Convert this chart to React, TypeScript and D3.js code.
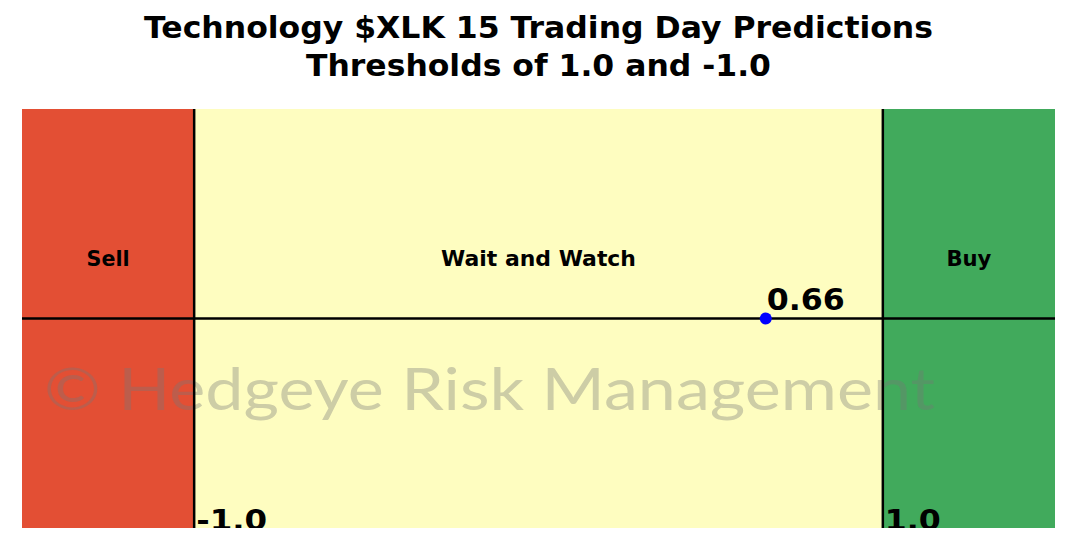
import * as d3 from "d3";

const titleLines = ["Technology $XLK 15 Trading Day Predictions", "Thresholds of 1.0 and -1.0"];
const zoneNames = ["Sell", "Wait and Watch", "Buy"];
const zoneStarts = [-1.5, -1.0, 1.0];
const zoneEnds = [-1.0, 1.0, 1.5];
const zoneColors = ["#e34f34", "#fefdc0", "#41aa5c"];
const thresholds = [-1.0, 1.0];
const prediction = 0.66;
const watermark = "\u00a9 Hedgeye Risk Management";

const W = 1075;
const H = 539;
const left = 22;
const right = 1055;
const top = 109;
const bottom = 528;
const font = "DejaVu Sans, sans-serif";

export default function App() {
  const x = d3.scaleLinear().domain([-1.5, 1.5]).range([left, right]);
  const y = d3.scaleLinear().domain([-1, 1]).range([bottom, top]);

  const zoneLabelWidths = [43, 195, 45];

  return (
    <svg width={W} height={H} style={{ position: "absolute", left: 0, top: 0 }}>
      <defs>
        <clipPath id="plot">
          <rect x={left} y={top} width={right - left} height={bottom - top} />
        </clipPath>
      </defs>
      <rect width={W} height={H} fill="#fff" />
      {titleLines.map((t, i) => (
        <text
          key={t}
          x={(left + right) / 2}
          y={38 + i * 38}
          textAnchor="middle"
          fontFamily={font}
          fontWeight="bold"
          fontSize={30}
          textLength={i === 0 ? 789 : 465}
          lengthAdjust="spacingAndGlyphs"
        >
          {t}
        </text>
      ))}
      <g clipPath="url(#plot)">
        {zoneNames.map((n, i) => (
          <rect
            key={n}
            x={x(zoneStarts[i])}
            y={top}
            width={x(zoneEnds[i]) - x(zoneStarts[i])}
            height={bottom - top}
            fill={zoneColors[i]}
          />
        ))}
        {zoneNames.map((n, i) => (
          <text
            key={n}
            x={(x(zoneStarts[i]) + x(zoneEnds[i])) / 2}
            y={y(0.29) + 8}
            textAnchor="middle"
            fontFamily={font}
            fontWeight="bold"
            fontSize={22}
            textLength={zoneLabelWidths[i]}
            lengthAdjust="spacingAndGlyphs"
          >
            {n}
          </text>
        ))}
        <text
          x={left + 22}
          y={410}
          fontFamily="Lato, 'Open Sans', sans-serif"
          fontSize={58}
          fill="rgba(120,120,120,0.36)"
          textLength={891}
          lengthAdjust="spacingAndGlyphs"
        >
          {watermark}
        </text>
        <line x1={left} x2={right} y1={y(0)} y2={y(0)} stroke="#000" strokeWidth={2.5} />
        {thresholds.map((t) => (
          <line key={t} x1={x(t)} x2={x(t)} y1={top} y2={bottom} stroke="#000" strokeWidth={2.5} />
        ))}
        {thresholds.map((t) => (
          <text
            key={t}
            x={x(t) + 2}
            y={530}
            fontFamily={font}
            fontWeight="bold"
            fontSize={29}
            textLength={t < 0 ? 71 : 56}
            lengthAdjust="spacingAndGlyphs"
          >
            {t.toFixed(1)}
          </text>
        ))}
        <circle cx={x(prediction)} cy={y(0)} r={6} fill="#0000ff" />
        <text
          x={x(prediction) + 1}
          y={y(0) - 9}
          fontFamily={font}
          fontWeight="bold"
          fontSize={30}
          textLength={78}
          lengthAdjust="spacingAndGlyphs"
        >
          {prediction.toFixed(2)}
        </text>
      </g>
    </svg>
  );
}
